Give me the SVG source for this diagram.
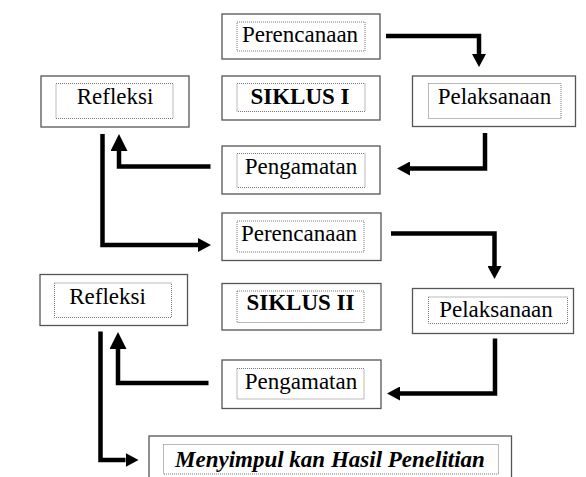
<svg xmlns="http://www.w3.org/2000/svg" width="586" height="477" viewBox="0 0 586 477">
<style>
.outer{fill:#fff;stroke:#555;stroke-width:1.3}
.inner{fill:none;stroke:#777;stroke-width:1;stroke-dasharray:1 1}
.t{font-family:"Liberation Serif","Times New Roman",serif;font-size:23px;fill:#000;text-anchor:middle}
.b{font-weight:bold}
.bi{font-weight:bold;font-style:italic;text-anchor:start}
.c{fill:none;stroke:#000;stroke-width:4.5;stroke-linejoin:miter;stroke-linecap:butt}
</style>
<defs>
<marker id="head" markerUnits="userSpaceOnUse" markerWidth="13" markerHeight="14" refX="0" refY="7" orient="auto" viewBox="0 0 13 14">
<path d="M0,0 L13,7 L0,14 z" fill="#000"/>
</marker>
<marker id="headL" markerUnits="userSpaceOnUse" markerWidth="17" markerHeight="17" refX="0" refY="8.5" orient="auto" viewBox="0 0 17 17">
<path d="M0,0 L17,8.5 L0,17 z" fill="#000"/>
</marker>
</defs>
<rect width="586" height="477" fill="#fff"/>

<g id="connectors">
<path class="c" d="M386,36 H479 V54" marker-end="url(#head)"/>
<path class="c" d="M485,133 V168.5 H410" marker-end="url(#head)"/>
<path class="c" d="M210.5,166.5 H119 V151" marker-end="url(#headL)"/>
<path class="c" d="M102.5,134 V245 H198" marker-end="url(#head)"/>
<path class="c" d="M391,233.5 H494.5 V266" marker-end="url(#head)"/>
<path class="c" d="M495,338.5 V393.5 H400" marker-end="url(#head)"/>
<path class="c" d="M208.5,383 H118 V349" marker-end="url(#headL)"/>
<path class="c" d="M100.5,331.5 V460 H125.5" marker-end="url(#head)"/>
</g>

<g id="perencanaan1">
<rect class="outer" x="222" y="14" width="158" height="45"/>
<rect class="inner" x="237" y="22" width="128" height="29"/>
<text class="t" x="300" y="42">Perencanaan</text>
</g>
<g id="siklus1">
<rect class="outer" x="222" y="76" width="158" height="44"/>
<rect class="inner" x="237" y="83.5" width="128" height="28"/>
<text class="t b" x="300" y="103.5">SIKLUS I</text>
</g>
<g id="pelaksanaan1">
<rect class="outer" x="412.5" y="76" width="163" height="50.5"/>
<rect class="inner" x="428.5" y="83.5" width="132.5" height="35"/>
<text class="t" x="494.5" y="103.5">Pelaksanaan</text>
</g>
<g id="pengamatan1">
<rect class="outer" x="222" y="146" width="158" height="48"/>
<rect class="inner" x="237" y="153.5" width="128" height="34"/>
<text class="t" x="301" y="173.5">Pengamatan</text>
</g>
<g id="refleksi1">
<rect class="outer" x="41" y="76" width="148" height="51"/>
<rect class="inner" x="56" y="83.5" width="117" height="35"/>
<text class="t" x="115" y="103.5">Refleksi</text>
</g>
<g id="perencanaan2">
<rect class="outer" x="222" y="213" width="159" height="47.5"/>
<rect class="inner" x="237" y="221" width="127" height="31"/>
<text class="t" x="299" y="241">Perencanaan</text>
</g>
<g id="siklus2">
<rect class="outer" x="222" y="283.5" width="159" height="46.5"/>
<rect class="inner" x="237" y="291" width="127" height="31.5"/>
<text class="t b" x="300.5" y="310">SIKLUS II</text>
</g>
<g id="pelaksanaan2">
<rect class="outer" x="412.5" y="288.5" width="161" height="45"/>
<rect class="inner" x="428.5" y="297" width="139" height="26.5"/>
<text class="t" x="496" y="317">Pelaksanaan</text>
</g>
<g id="pengamatan2">
<rect class="outer" x="222" y="360" width="159" height="48.5"/>
<rect class="inner" x="237" y="368.5" width="127" height="30.5"/>
<text class="t" x="301" y="389">Pengamatan</text>
</g>
<g id="refleksi2">
<rect class="outer" x="40" y="274.5" width="147.5" height="51"/>
<rect class="inner" x="54.5" y="283" width="117" height="34.5"/>
<text class="t" x="107.5" y="303.5">Refleksi</text>
</g>
<g id="kesimpulan">
<rect class="outer" x="149" y="436" width="362.5" height="50"/>
<rect class="inner" x="163.5" y="444.5" width="335" height="29.5"/>
<text class="t bi" x="175" y="466.5">Menyimpul kan Hasil Penelitian</text>
</g>
</svg>
